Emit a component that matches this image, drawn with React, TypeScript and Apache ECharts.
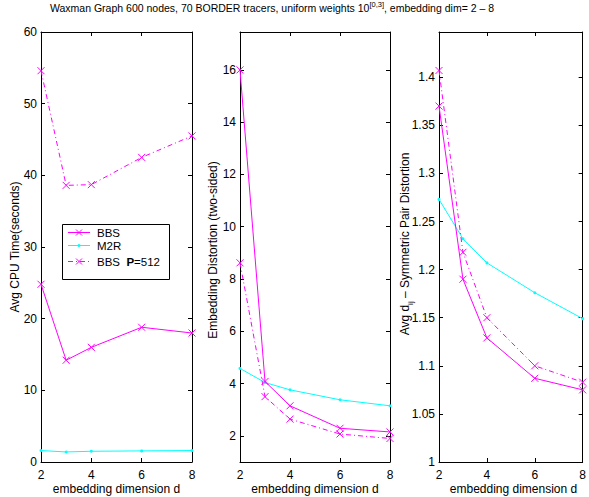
import React, { useEffect, useRef } from "react";
import * as echarts from "echarts";

const dims = [2, 3, 4, 6, 8];
const xTicks = [2, 4, 6, 8];

const cpuBBS = [24.8, 14.2, 16.0, 18.8, 18.0];
const cpuM2R = [1.6, 1.4, 1.5, 1.55, 1.6];
const cpuBBS512 = [54.6, 38.6, 38.7, 42.5, 45.5];

const distBBS = [16.0, 4.08, 3.15, 2.29, 2.15];
const distM2R = [4.58, 4.04, 3.76, 3.38, 3.15];
const distBBS512 = [8.62, 3.5, 2.64, 2.07, 1.9];

const pairBBS = [1.37, 1.19, 1.129, 1.087, 1.075];
const pairM2R = [1.273, 1.232, 1.207, 1.176, 1.149];
const pairBBS512 = [1.407, 1.218, 1.15, 1.1, 1.083];

const cpuTicks = [0, 10, 20, 30, 40, 50, 60];
const distTicks = [2, 4, 6, 8, 10, 12, 14, 16];
const pairTicks = [1, 1.05, 1.1, 1.15, 1.2, 1.25, 1.3, 1.35, 1.4];

const FONT = "'Liberation Sans', Arial, Helvetica, sans-serif";
const MAGENTA = "#ff00ff";
const CYAN = "#00ffff";
const DASHDOT = [5, 3, 1, 3];
const XSYM = "path://M0 0L10 10M10 0L0 10";

const grids = [
  { left: 41, top: 32, width: 151, height: 430 },
  { left: 240, top: 32, width: 150, height: 430 },
  { left: 439, top: 32, width: 149, height: 430 },
];

const yRanges = [
  { min: 0, max: 60, ticks: cpuTicks },
  { min: 1, max: 17.45, ticks: distTicks },
  { min: 1, max: 1.447, ticks: pairTicks },
];

function pairs(ys: number[]) {
  return dims.map((d, i) => [d, ys[i]]);
}

function makeOption() {
  const xAxis: any[] = [];
  const yAxis: any[] = [];
  const series: any[] = [];
  const axisLine = { show: true, onZero: false, lineStyle: { color: "#000", width: 1 } };
  const tickStyle = { color: "#000", width: 1 };
  grids.forEach((_, g) => {
    ["bottom", "top"].forEach((pos) => {
      xAxis.push({
        gridIndex: g,
        type: "value",
        position: pos,
        min: 2,
        max: 8,
        axisLine,
        axisTick: { show: true, inside: true, length: 4, lineStyle: tickStyle, customValues: xTicks },
        axisLabel: {
          show: pos === "bottom",
          color: "#000",
          fontSize: 12,
          fontFamily: FONT,
          margin: 7,
          customValues: xTicks,
        },
        splitLine: { show: false },
      });
    });
    const r = yRanges[g];
    ["left", "right"].forEach((pos) => {
      yAxis.push({
        gridIndex: g,
        type: "value",
        position: pos,
        min: r.min,
        max: r.max,
        axisLine,
        axisTick: { show: true, inside: true, length: 4, lineStyle: tickStyle, customValues: r.ticks },
        axisLabel: {
          show: pos === "left",
          color: "#000",
          fontSize: 12,
          fontFamily: FONT,
          margin: 4,
          customValues: r.ticks,
        },
        splitLine: { show: false },
      });
    });
  });

  const data = [
    [cpuBBS, cpuM2R, cpuBBS512],
    [distBBS, distM2R, distBBS512],
    [pairBBS, pairM2R, pairBBS512],
  ];
  const names = ["BBS", "M2R", "BBS P=512"];
  data.forEach((set, g) => {
    set.forEach((ys, k) => {
      const isM2R = k === 1;
      const color = isM2R ? CYAN : MAGENTA;
      series.push({
        type: "line",
        name: names[k],
        xAxisIndex: g * 2,
        yAxisIndex: g * 2,
        data: pairs(ys),
        symbol: isM2R ? "circle" : XSYM,
        symbolSize: isM2R ? 3 : 7,
        showSymbol: true,
        clip: false,
        itemStyle: isM2R
          ? { color, borderWidth: 0 }
          : { color, borderColor: color, borderWidth: 1 },
        lineStyle: { color, width: 1, type: k === 2 ? DASHDOT : "solid" },
        z: k === 1 ? 2 : 3,
      });
    });
  });

  const xMarker = (cx: number, cy: number, s = 3) => [
    { type: "line", z: 101, shape: { x1: cx - s, y1: cy - s, x2: cx + s, y2: cy + s }, style: { stroke: MAGENTA, lineWidth: 1 } },
    { type: "line", z: 101, shape: { x1: cx - s, y1: cy + s, x2: cx + s, y2: cy - s }, style: { stroke: MAGENTA, lineWidth: 1 } },
  ];

  const textBase = { fill: "#000", fontFamily: FONT };

  const graphic: any[] = [
    {
      type: "text",
      z: 100,
      x: 50,
      y: 8,
      style: {
        ...textBase,
        text: "Waxman Graph 600 nodes, 70 BORDER tracers, uniform weights 10{sup|[0,3]}, embedding dim= 2 – 8",
        fontSize: 10.5,
        lineHeight: 15,
        align: "left",
        verticalAlign: "middle",
        rich: { sup: { fontSize: 7.5, lineHeight: 8, verticalAlign: "top", fontFamily: FONT, fill: "#000" } },
      },
    },
    // y axis titles
    {
      type: "text", z: 100, x: 15, y: 247, rotation: Math.PI / 2,
      style: { ...textBase, text: "Avg CPU Time(seconds)", fontSize: 12, align: "center", verticalAlign: "middle" },
    },
    {
      type: "text", z: 100, x: 213, y: 250, rotation: Math.PI / 2,
      style: { ...textBase, text: "Embedding Distortion (two-sided)", fontSize: 12, align: "center", verticalAlign: "middle" },
    },
    {
      type: "text", z: 100, x: 405, y: 244, rotation: Math.PI / 2,
      style: {
        ...textBase,
        text: "Avg d{sub|ij} – Symmetric Pair Distortion",
        fontSize: 12,
        lineHeight: 18,
        align: "center",
        verticalAlign: "middle",
        rich: { sub: { fontSize: 8, lineHeight: 8, verticalAlign: "bottom", fontFamily: FONT, fill: "#000" } },
      },
    },
    // x axis titles
    ...grids.map((g) => ({
      type: "text", z: 100, x: g.left + g.width / 2, y: 489,
      style: { ...textBase, text: "embedding dimension d", fontSize: 12, align: "center", verticalAlign: "middle" },
    })),
    // legend
    {
      type: "rect", z: 99,
      shape: { x: 62.5, y: 224.5, width: 107, height: 55 },
      style: { fill: "#fff", stroke: "#000", lineWidth: 1 },
    },
    { type: "line", z: 100, shape: { x1: 68, y1: 232.5, x2: 90, y2: 232.5 }, style: { stroke: MAGENTA, lineWidth: 1 } },
    ...xMarker(79, 232.5),
    { type: "text", z: 100, x: 97, y: 232.5, style: { ...textBase, text: "BBS", fontSize: 11.5, lineHeight: 11, verticalAlign: "middle" } },
    { type: "line", z: 100, shape: { x1: 68, y1: 245.5, x2: 90, y2: 245.5 }, style: { stroke: CYAN, lineWidth: 1 } },
    { type: "circle", z: 101, shape: { cx: 79, cy: 245.5, r: 1.5 }, style: { fill: CYAN } },
    { type: "text", z: 100, x: 97, y: 245.5, style: { ...textBase, text: "M2R", fontSize: 11.5, lineHeight: 11, verticalAlign: "middle" } },
    { type: "line", z: 100, shape: { x1: 68, y1: 261.5, x2: 90, y2: 261.5 }, style: { stroke: MAGENTA, lineWidth: 1, lineDash: DASHDOT } },
    ...xMarker(79, 261.5),
    {
      type: "text", z: 100, x: 97, y: 261.5,
      style: {
        ...textBase,
        text: "BBS  {b|P}=512",
        fontSize: 11.5,
        lineHeight: 12,
        verticalAlign: "middle",
        rich: { b: { fontSize: 11.5, lineHeight: 12, fontWeight: "bold", fontFamily: FONT, fill: "#000" } },
      },
    },
  ];

  return {
    animation: false,
    backgroundColor: "#fff",
    grid: grids.map((g) => ({ ...g, containLabel: false })),
    xAxis,
    yAxis,
    series,
    graphic,
  };
}

export default function App() {
  const ref = useRef<HTMLDivElement>(null);
  useEffect(() => {
    if (!ref.current) return;
    const chart = echarts.init(ref.current, undefined, { renderer: "svg" });
    chart.setOption(makeOption() as any);
    return () => chart.dispose();
  }, []);
  return (
    <div
      ref={ref}
      style={{ position: "fixed", left: 0, top: 0, width: 589, height: 497, background: "#fff" }}
    />
  );
}
